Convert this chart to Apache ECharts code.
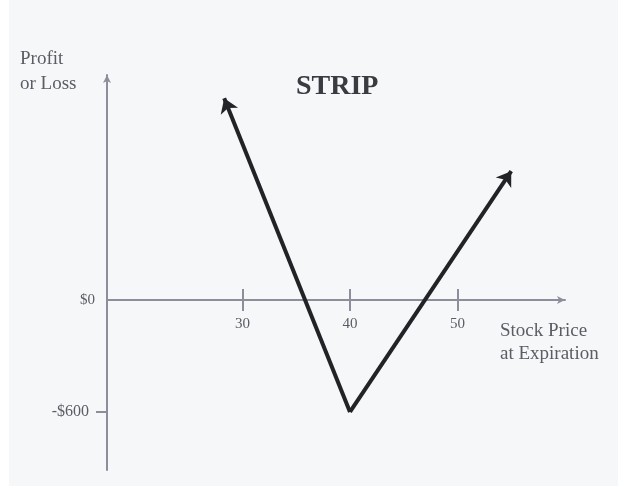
<!DOCTYPE html>
<html>
<head>
<meta charset="utf-8">
<script src="https://cdn.jsdelivr.net/npm/echarts@6/dist/echarts.min.js"></script>
<style>
  html, body { margin: 0; padding: 0; background: #ffffff; }
  #chart { position: absolute; left: 9px; top: 0; width: 609px; height: 486px; background: #f6f7f9; }
</style>
</head>
<body>
<div id="chart"></div>
<script>
// Strip payoff at expiration: two puts + one call, strike 40
const payoffPrices = [28.3, 40, 55.0];      // stock price at expiration
const payoffValues = [1080, -600, 690];     // profit or loss ($)
const xTickValues = [30, 40, 50];
const yTickValues = [0, -600];
const yTickLabels = ['$0', '-$600'];

const yMin = -911, yMax = 1205;
const gridTop = 75, gridBottom = 16, chartHeight = 486;

const chart = echarts.init(document.getElementById('chart'), null, { renderer: 'canvas' });

const serif = '"Liberation Serif", "DejaVu Serif", serif';
const axisColor = '#8d8e9c';
const inkColor = '#222326';
const labelColor = '#5c5d64';

// the price axis sits at $0: lift it from the grid's bottom edge by the height of the loss range
const plotHeight = chartHeight - gridTop - gridBottom;
const zeroLift = plotHeight * (0 - yMin) / (yMax - yMin);

// the two legs drawn outward from the vertex so each ends in an arrowhead
const vertex = [payoffPrices[1], payoffValues[1]];
const legs = [
  { coords: [vertex, [payoffPrices[0], payoffValues[0]]] },
  { coords: [vertex, [payoffPrices[2], payoffValues[2]]] }
];

chart.setOption({
  animation: false,
  grid: { left: 98, right: 53, top: gridTop, bottom: gridBottom, outerBoundsMode: 'none', containLabel: false },
  title: {
    text: 'STRIP',
    left: 282, top: 68,
    textStyle: { fontFamily: serif, fontSize: 28, fontWeight: 'bold', color: '#3a3b40' }
  },
  graphic: [
    {
      type: 'text', left: 11, top: 47,
      style: { text: 'Profit\nor Loss', fontFamily: serif, fontSize: 19, lineHeight: 25, fill: labelColor }
    },
    {
      type: 'text', left: 491, top: 320,
      style: { text: 'Stock Price\nat Expiration', fontFamily: serif, fontSize: 19, lineHeight: 23, fill: labelColor }
    }
  ],
  xAxis: [
    {
      type: 'value', min: 17.4, max: 60, position: 'bottom', offset: -zeroLift,
      axisLine: { onZero: false, lineStyle: { color: axisColor, width: 2 }, symbol: ['none', 'arrow'], symbolSize: [6, 8] },
      axisTick: { show: true, customValues: xTickValues, length: 11, lineStyle: { color: axisColor, width: 2 } },
      axisLabel: { customValues: xTickValues, margin: 17, fontFamily: serif, fontSize: 15, color: labelColor },
      splitLine: { show: false }
    },
    {
      type: 'value', min: 17.4, max: 60, position: 'bottom', offset: -zeroLift,
      axisLine: { show: false, onZero: false },
      axisTick: { show: true, inside: true, customValues: xTickValues, length: 11, lineStyle: { color: axisColor, width: 2 } },
      axisLabel: { show: false },
      splitLine: { show: false }
    }
  ],
  yAxis: {
    type: 'value', min: yMin, max: yMax,
    axisLine: { show: true, onZero: false, lineStyle: { color: axisColor, width: 2 }, symbol: ['none', 'arrow'], symbolSize: [6, 8] },
    axisTick: { show: true, customValues: [-600], length: 11, lineStyle: { color: axisColor, width: 2 } },
    axisLabel: {
      customValues: yTickValues, margin: 12, fontFamily: serif, fontSize: 16, color: labelColor,
      formatter: v => v === 0 ? '{zero|' + yTickLabels[0] + '}' : '{loss|' + yTickLabels[yTickValues.indexOf(v)] + '}',
      rich: {
        zero: { fontFamily: serif, fontSize: 15, color: labelColor },
        loss: { fontFamily: serif, fontSize: 16, color: labelColor, padding: [0, 6, 0, 0] }
      }
    },
    splitLine: { show: false }
  },
  series: [
    {
      type: 'lines',
      coordinateSystem: 'cartesian2d',
      xAxisIndex: 0,
      yAxisIndex: 0,
      symbol: ['none', 'arrow'],
      symbolSize: [11, 14],
      lineStyle: { color: inkColor, width: 4, opacity: 1 },
      data: legs
    }
  ]
});
</script>
</body>
</html>
